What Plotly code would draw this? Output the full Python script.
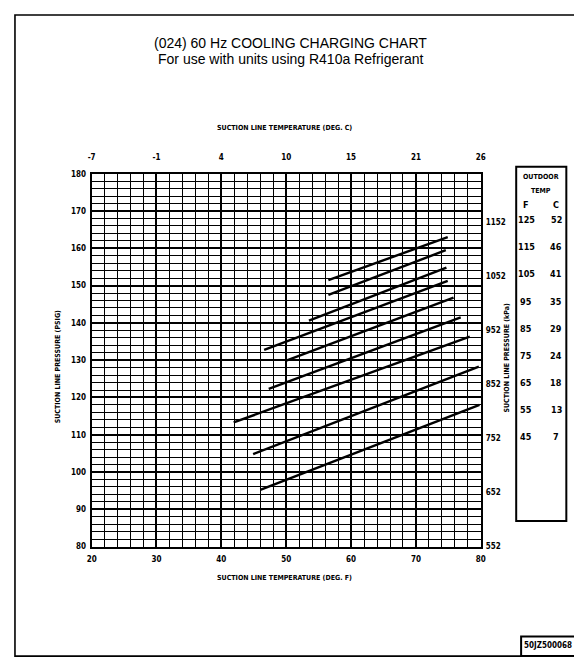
import plotly.graph_objects as go

W, H = 582, 661

# ---------------- data ----------------
outdoor_f = [125, 115, 105, 95, 85, 75, 65, 55, 45]
outdoor_c = [52, 46, 41, 35, 29, 24, 18, 13, 7]
line_start_f = [56.5, 56.5, 53.5, 46.6, 49.9, 47.3, 41.9, 44.9, 46.0]
line_start_psig = [151.5, 147.5, 140.6, 132.8, 129.8, 122.3, 113.3, 104.8, 95.2]
line_end_f = [74.9, 74.6, 74.7, 74.9, 75.8, 76.9, 78.3, 79.7, 79.8]
line_end_psig = [163.0, 159.5, 154.8, 151.3, 146.8, 141.5, 136.3, 128.3, 118.0]

f_ticks = [20, 30, 40, 50, 60, 70, 80]
c_tick_labels = ["-7", "-1", "4", "10", "15", "21", "26"]
psig_ticks = [80, 90, 100, 110, 120, 130, 140, 150, 160, 170, 180]
kpa_ticks = [552, 652, 752, 852, 952, 1052, 1152]
kpa_tick_labels = ["552", "652", "752", "852", "952", "1052", "1152"]
PSIG_TO_KPA = 6.895


def px(x):
    return x / W


def py(y):
    return 1 - y / H


NARROW = "Liberation Sans Narrow, DejaVu Sans Condensed, Arial Narrow, sans-serif"
SANS = "Liberation Sans, Arial, Helvetica, sans-serif"

fig = go.Figure()

for i in range(len(outdoor_f)):
    fig.add_trace(go.Scatter(
        x=[line_start_f[i], line_end_f[i]],
        y=[line_start_psig[i], line_end_psig[i]],
        mode="lines",
        line=dict(color="black", width=2.4),
        name=f"{outdoor_f[i]} F",
        showlegend=False,
        hoverinfo="skip",
    ))

# invisible helper trace so the top / right axes are drawn
fig.add_trace(go.Scatter(
    x=[20, 80], y=[80 * PSIG_TO_KPA, 180 * PSIG_TO_KPA],
    xaxis="x2", yaxis="y2", mode="markers",
    marker=dict(opacity=0), showlegend=False, hoverinfo="skip",
))

PL, PR, PT, PB = 80, 476, 164, 542
x_dom = [px(PL), px(PR)]
y_dom = [py(PB), py(PT)]
tickfont = dict(family=NARROW, size=8, color="black", weight="bold")

fig.update_layout(
    width=W, height=H,
    margin=dict(l=0, r=0, t=0, b=0),
    paper_bgcolor="white", plot_bgcolor="white",
    showlegend=False,
    xaxis=dict(
        domain=x_dom, range=[20, 80],
        tickvals=f_ticks, ticks="", tickfont=tickfont, ticklabelstandoff=4,
        showgrid=True, gridcolor="black", gridwidth=1.6,
        minor=dict(dtick=2, showgrid=True, gridcolor="black", gridwidth=1.2),
        showline=True, linecolor="black", linewidth=2.2, mirror=True,
        zeroline=False, fixedrange=True,
    ),
    yaxis=dict(
        domain=y_dom, range=[80, 180],
        tickvals=psig_ticks, ticks="", tickfont=tickfont, ticklabelstandoff=2,
        showgrid=True, gridcolor="black", gridwidth=1.6,
        minor=dict(dtick=2, showgrid=True, gridcolor="black", gridwidth=1.4),
        showline=True, linecolor="black", linewidth=2.2, mirror=True,
        zeroline=False, fixedrange=True,
    ),
    xaxis2=dict(
        overlaying="x", side="top", anchor="y", range=[20, 80],
        tickvals=f_ticks, ticktext=c_tick_labels, ticks="",
        tickfont=tickfont, ticklabelstandoff=11,
        showgrid=False, showline=False, zeroline=False, fixedrange=True,
    ),
    yaxis2=dict(
        overlaying="y", side="right", anchor="x",
        range=[80 * PSIG_TO_KPA, 180 * PSIG_TO_KPA],
        tickvals=kpa_ticks, ticktext=kpa_tick_labels, ticks="",
        tickfont=tickfont, ticklabelstandoff=4,
        showgrid=False, showline=False, zeroline=False, fixedrange=True,
    ),
)

ann = []


def text(x, y, s, size=8, family=NARROW, angle=0, weight="bold", xanchor="center"):
    ann.append(dict(
        x=px(x), y=py(y), xref="paper", yref="paper", text=s, showarrow=False,
        xanchor=xanchor, yanchor="middle", textangle=angle,
        font=dict(family=family, size=size, color="black", weight=weight),
    ))


text(282, 31, "(024) 60 Hz COOLING CHARGING CHART", size=14, family=SANS, weight="normal")
text(282, 48, "For use with units using R410a Refrigerant", size=14, family=SANS, weight="normal")
text(276, 118, "SUCTION LINE TEMPERATURE (DEG. C)", size=7)
text(276, 574, "SUCTION LINE TEMPERATURE (DEG. F)", size=7)
text(46, 360, "SUCTION LINE PRESSURE (PSIG)", size=7, angle=-90)
text(503, 350, "SUCTION LINE PRESSURE (kPa)", size=7, angle=-90)

# outdoor temperature key
box_l, box_r, box_t, box_b = 512, 563, 157, 516
text((box_l + box_r) / 2, 167, "OUTDOOR", size=7)
text((box_l + box_r) / 2, 181, "TEMP", size=7)
text(522, 196, "F", size=9)
text(553, 196, "C", size=9)
for i in range(len(outdoor_f)):
    yy = 211 + i * 27.5
    text(522, yy, str(outdoor_f[i]), size=9)
    text(553, yy, str(outdoor_c[i]), size=9)

text(544, 642, "50JZ500068", size=8)

shapes = [
    # page frame
    dict(type="rect", xref="paper", yref="paper", x0=px(2), x1=px(573), y0=py(653), y1=py(3),
         line=dict(color="black", width=1.6)),
    # key box
    dict(type="rect", xref="paper", yref="paper", x0=px(box_l), x1=px(box_r), y0=py(box_b), y1=py(box_t),
         line=dict(color="black", width=2)),
    # part number box
    dict(type="rect", xref="paper", yref="paper", x0=px(517), x1=px(573), y0=py(653), y1=py(633),
         line=dict(color="black", width=2)),
]

fig.update_layout(annotations=ann, shapes=shapes)
fig.write_html("out.html")
